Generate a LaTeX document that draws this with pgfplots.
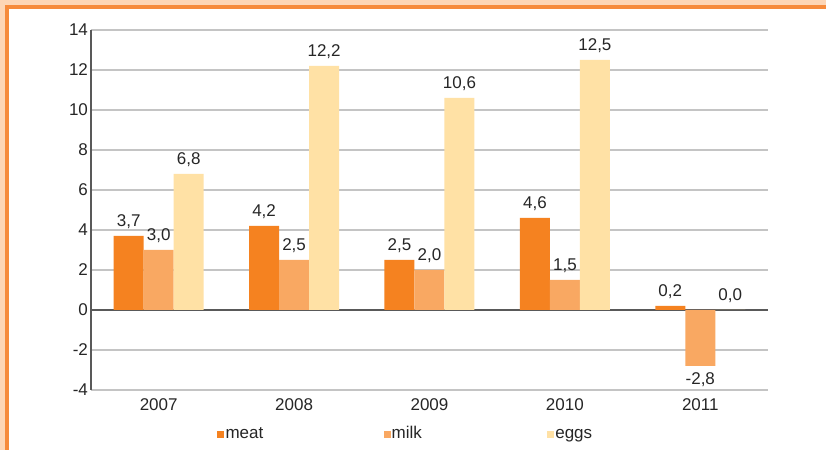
\documentclass[border=0pt]{standalone}
\usepackage{fontspec}
\setmainfont{Liberation Sans}
\usepackage{pgfplots}
\pgfplotsset{compat=1.18}

\definecolor{meat}{HTML}{F58220}
\definecolor{milk}{HTML}{F9A862}
\definecolor{eggs}{HTML}{FFE1A5}
\definecolor{frame}{HTML}{F68B3C}
\definecolor{peach}{HTML}{FDD6B6}
\definecolor{gridgray}{HTML}{C4C4C4}
\definecolor{axisgray}{HTML}{595959}

\newcommand{\lbl}{\fontsize{8.5}{10}\selectfont}

\begin{document}
\begin{tikzpicture}
% page frame: peach margin, orange rule, white inside
\useasboundingbox (0,0) rectangle (413pt,225pt);
\begin{scope}
  \clip (0,0) rectangle (413pt,225pt);
  \fill[peach] (0,0) rectangle (413pt,225pt);
  \filldraw[fill=white, draw=frame, line width=2pt] (3.5pt,-20pt) rectangle (440pt,221.5pt);
\end{scope}

\begin{axis}[
  at={(45.5pt,30pt)}, anchor=south west,
  scale only axis,
  width=338.5pt, height=180pt,
  ybar=0pt, bar width=15pt,
  xmin=-0.5, xmax=4.5,
  ymin=-4, ymax=14,
  xtick={0,1,2,3,4},
  xticklabels={2007,2008,2009,2010,2011},
  ytick={-4,-2,...,14},
  /pgf/number format/assume math mode=true,
  tick style={draw=none},
  ymajorgrids,
  grid style={gridgray, line width=0.6pt},
  extra y ticks={0},
  extra y tick labels={},
  extra y tick style={grid style={axisgray, line width=0.6pt}},
  axis x line*=bottom,
  axis y line*=left,
  axis line style={-},
  x axis line style={gridgray, line width=0.6pt},
  y axis line style={axisgray, line width=0.6pt},
  ticklabel style={font=\lbl, text=black!85},
  yticklabel style={xshift=2pt},
  xticklabel style={yshift=3.5pt},
  nodes near coords={\pgfmathprintnumber[fixed,fixed zerofill,precision=1,use comma,assume math mode=true]{\pgfplotspointmeta}},
  every node near coord/.append style={font=\lbl, text=black!85},
  legend columns=3,
  legend image code/.code={\fill[#1, draw=none] (0pt,0pt) rectangle (3.5pt,3.5pt);},
  legend style={draw=none, fill=none, font=\lbl, text=black!85,
    at={(rel axis cs:0.186,-0.122)}, anchor=west, inner sep=0pt,
    nodes={inner sep=0.6pt, text height=6pt, text depth=1.8pt},
    cells={anchor=base west},
    /tikz/column 2/.style={column sep=59.5pt},
    /tikz/column 4/.style={column sep=62pt}},
]
\addplot[fill=meat, draw=none] coordinates {(0,3.7) (1,4.2) (2,2.5) (3,4.6) (4,0.2)};
\addplot[fill=milk, draw=none] coordinates {(0,3.0) (1,2.5) (2,2.0) (3,1.5) (4,-2.8)};
\addplot[fill=eggs, draw=none] coordinates {(0,6.8) (1,12.2) (2,10.6) (3,12.5) (4,0.0)};
\legend{meat,milk,eggs}
\end{axis}
\end{tikzpicture}
\end{document}
